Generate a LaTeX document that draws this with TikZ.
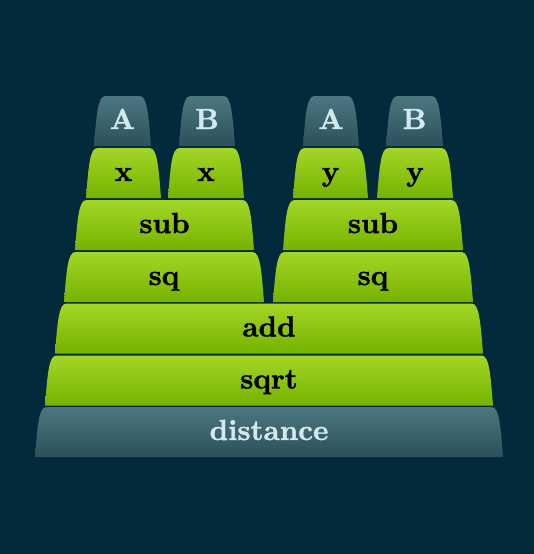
\documentclass[tikz,border=0pt]{standalone}
\usepackage{fontspec}
\newfontfamily\lblfont{lmroman10-bold.otf}[FakeBold=1.3]
\definecolor{bg}{HTML}{032A3A}
\definecolor{gtop}{HTML}{A3D626}
\definecolor{gbot}{HTML}{76B200}
\definecolor{ttop}{HTML}{4B7780}
\definecolor{tbot}{HTML}{2C5059}
\definecolor{tlabel}{HTML}{D2EAEE}
\tikzset{
  greenblk/.style={shade, top color=gtop, bottom color=gbot},
  tealblk/.style={shade, top color=ttop, bottom color=tbot},
  greenlbl/.style={text=black, font=\lblfont\fontsize{29}{30}\selectfont, anchor=base, inner sep=0pt},
  teallbl/.style={text=tlabel, font=\lblfont\fontsize{29}{30}\selectfont, anchor=base, inner sep=0pt},
}
% #1 name, #2 left, #3 right, #4 bottom y, #5 block style, #6 label style, #7 text
\newcommand\myblock[7]{%
  \pgfmathsetmacro\bt{#4-49.8}%
  \pgfmathsetmacro\bc{#4-32}%
  \pgfmathsetmacro\bll{#2+2.5}\pgfmathsetmacro\blm{#2+4}\pgfmathsetmacro\blt{#2+11}%
  \pgfmathsetmacro\brl{#3-2.5}\pgfmathsetmacro\brm{#3-4}\pgfmathsetmacro\brt{#3-11}%
  \path[#5] (#2,#4) .. controls (\bll,\bc) and (\blm,\bt) .. (\blt,\bt)
     -- (\brt,\bt) .. controls (\brm,\bt) and (\brl,\bc) .. (#3,#4) -- cycle;
  \pgfmathsetmacro\bx{(#2+#3)/2}\pgfmathsetmacro\by{#4-17}%
  \node[#6] (#1) at (\bx,\by) {#7};%
}
\begin{document}
\begin{tikzpicture}[x=1pt,y=-1pt]
\fill[bg] (0,0) rectangle (534,554);
\useasboundingbox (0,0) rectangle (534,554);
\myblock{distance}{35}{503}{457}{tealblk}{teallbl}{distance}
\myblock{sqrt}{45}{493}{405.5}{greenblk}{greenlbl}{sqrt}
\myblock{add}{55}{483}{353.5}{greenblk}{greenlbl}{add}
\myblock{sqL}{64}{264}{302}{greenblk}{greenlbl}{sq}
\myblock{sqR}{273}{473}{302}{greenblk}{greenlbl}{sq}
\myblock{subL}{75}{254}{250}{greenblk}{greenlbl}{sub}
\myblock{subR}{283}{463}{250}{greenblk}{greenlbl}{sub}
\myblock{x1}{86}{161}{198}{greenblk}{greenlbl}{x}
\myblock{x2}{168}{244}{198}{greenblk}{greenlbl}{x}
\myblock{y1}{293}{368}{198}{greenblk}{greenlbl}{y}
\myblock{y2}{377}{453}{198}{greenblk}{greenlbl}{y}
\myblock{A1}{94}{151}{146}{tealblk}{teallbl}{A}
\myblock{B1}{179}{235}{146}{tealblk}{teallbl}{B}
\myblock{A2}{303}{359}{146}{tealblk}{teallbl}{A}
\myblock{B2}{386}{443}{146}{tealblk}{teallbl}{B}
\end{tikzpicture}
\end{document}
